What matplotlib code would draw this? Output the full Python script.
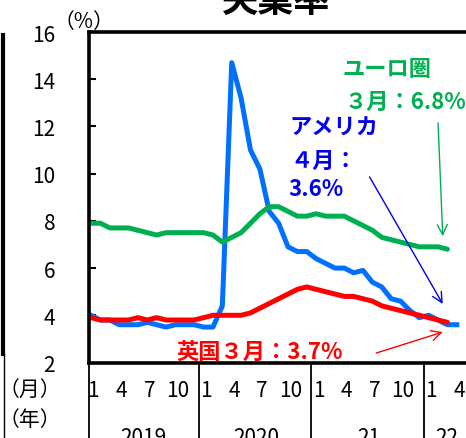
import matplotlib
matplotlib.use("Agg")
import matplotlib.pyplot as plt
import matplotlib.transforms as mtransforms
from matplotlib.lines import Line2D

plt.rcParams['font.family'] = ['Noto Sans CJK JP', 'DejaVu Sans']

# 月次失業率 (2019年1月〜)
us = [4.0, 3.8, 3.8, 3.6, 3.6, 3.6, 3.7, 3.6, 3.5, 3.6, 3.6, 3.6,
      3.5, 3.5, 4.4, 14.7, 13.2, 11.0, 10.2, 8.4, 7.9, 6.9, 6.7, 6.7,
      6.4, 6.2, 6.0, 6.0, 5.8, 5.9, 5.4, 5.2, 4.7, 4.6, 4.2, 3.9,
      4.0, 3.8, 3.6, 3.6]
euro = [7.9, 7.9, 7.7, 7.7, 7.7, 7.6, 7.5, 7.4, 7.5, 7.5, 7.5, 7.5,
        7.5, 7.4, 7.1, 7.3, 7.5, 7.9, 8.3, 8.6, 8.6, 8.4, 8.2, 8.2,
        8.3, 8.2, 8.2, 8.2, 8.0, 7.8, 7.6, 7.3, 7.2, 7.1, 7.0, 6.9,
        6.9, 6.9, 6.8]
uk = [3.9, 3.8, 3.8, 3.8, 3.8, 3.9, 3.8, 3.9, 3.8, 3.8, 3.8, 3.8,
      3.9, 4.0, 4.0, 4.0, 4.0, 4.1, 4.3, 4.5, 4.7, 4.9, 5.1, 5.2,
      5.1, 5.0, 4.9, 4.8, 4.8, 4.7, 4.6, 4.4, 4.3, 4.2, 4.1, 4.0,
      3.9, 3.8, 3.7]

month_pos = [0, 3, 6, 9, 12, 15, 18, 21, 24, 27, 30, 33, 36, 39]
month_lab = ["1", "4", "7", "10"] * 3 + ["1", "4"]
year_pos = [5.6, 17.6, 29.6, 37.9]
year_lab = ["2019", "2020", "21", "22"]
year_sep = [11.5, 23.5, 35.5]
yticks = [2, 4, 6, 8, 10, 12, 14, 16]

W, H = 466, 439
fig = plt.figure(figsize=(W / 100, H / 100), dpi=100)


def fx(px):
    return px / W


def fy(py):
    return 1 - py / H


ax = fig.add_axes([fx(88.5), fy(363.5), fx(480 - 88.5), (363.5 - 33) / H])

ax.plot(range(len(us)), us, color='#0070ff', lw=3.6, solid_joinstyle='round')
ax.plot(range(len(euro)), euro, color='#00b050', lw=3.6, solid_joinstyle='round',
        solid_capstyle='round')
ax.plot(range(len(uk)), uk, color='#ff0000', lw=3.6, solid_joinstyle='round',
        solid_capstyle='round')

ax.set_xlim(-0.27, (480 - 91) / 9.38)
ax.set_ylim(2, 16)
ax.set_yticks(yticks)
ax.set_yticklabels([str(v) for v in yticks], fontsize=15)
ax.tick_params(axis='y', direction='in', length=5, width=1.5, pad=24)
ax.set_xticks([])
for s in ['left', 'top', 'bottom']:
    ax.spines[s].set_linewidth(2.6)
ax.spines['right'].set_visible(False)

# 月・年の表
tr = mtransforms.blended_transform_factory(ax.transData, fig.transFigure)
for p, lab in zip(month_pos, month_lab):
    fig.text(p + 0.25, fy(391), lab, transform=tr, ha='center', va='center', fontsize=15)
for p, lab in zip(year_pos, year_lab):
    fig.text(p, fy(438), lab, transform=tr, ha='center', va='center', fontsize=15)
for p in year_sep:
    fig.add_artist(Line2D([p, p], [fy(363.5), 0], transform=tr, color='black', lw=1.3))
fig.add_artist(Line2D([fx(88.5), fx(88.5)], [fy(363.5), 0], color='black', lw=1.3))
fig.add_artist(Line2D([fx(4), fx(4)], [fy(355), 0], color='black', lw=1.0))
fig.add_artist(Line2D([fx(2.5), fx(2.5)], [fy(36), fy(355)], color='black', lw=3.0))

fig.text(fx(30), fy(390), "（月）", ha='center', va='center', fontsize=15)
fig.text(fx(30), fy(420), "（年）", ha='center', va='center', fontsize=15)
fig.text(fx(84), fy(22), "（%）", ha='center', va='center', fontsize=15)
fig.text(fx(276), fy(12), "失業率", ha='center', va='baseline', fontsize=26,
         fontweight='bold')

# 注記
fig.text(fx(342), fy(70), "ユーロ圏", color='#00b050', fontsize=16, fontweight='bold',
         ha='left', va='center')
fig.text(fx(345), fy(102), "３月：%.1f%%" % euro[-1], color='#00b050', fontsize=16,
         fontweight='bold', ha='left', va='center')
fig.text(fx(289), fy(128), "アメリカ", color='#0000ee', fontsize=16, fontweight='bold',
         ha='left', va='center')
fig.text(fx(290), fy(161), "４月：", color='#0000ee', fontsize=16, fontweight='bold',
         ha='left', va='center')
fig.text(fx(288), fy(190), "%.1f%%" % us[-1], color='#0000ee', fontsize=16,
         fontweight='bold', ha='left', va='center')
fig.text(fx(176), fy(352), "英国３月：%.1f%%" % uk[-1], color='#ff0000', fontsize=16,
         fontweight='bold', ha='left', va='center')

ax.annotate("", xy=(37.5, 7.35), xytext=(37.0, 12.15),
            arrowprops=dict(arrowstyle='->', color='#00b050', lw=1.0,
                            mutation_scale=18, shrinkA=0, shrinkB=0))
ax.annotate("", xy=(37.5, 4.48), xytext=(29.7, 9.86),
            arrowprops=dict(arrowstyle='->', color='#0000ee', lw=1.0,
                            mutation_scale=18, shrinkA=0, shrinkB=0))
ax.annotate("", xy=(37.5, 3.29), xytext=(30.4, 2.4),
            arrowprops=dict(arrowstyle='->', color='#ff0000', lw=1.0,
                            mutation_scale=18, shrinkA=0, shrinkB=0))

fig.savefig("out.png", dpi=100)
